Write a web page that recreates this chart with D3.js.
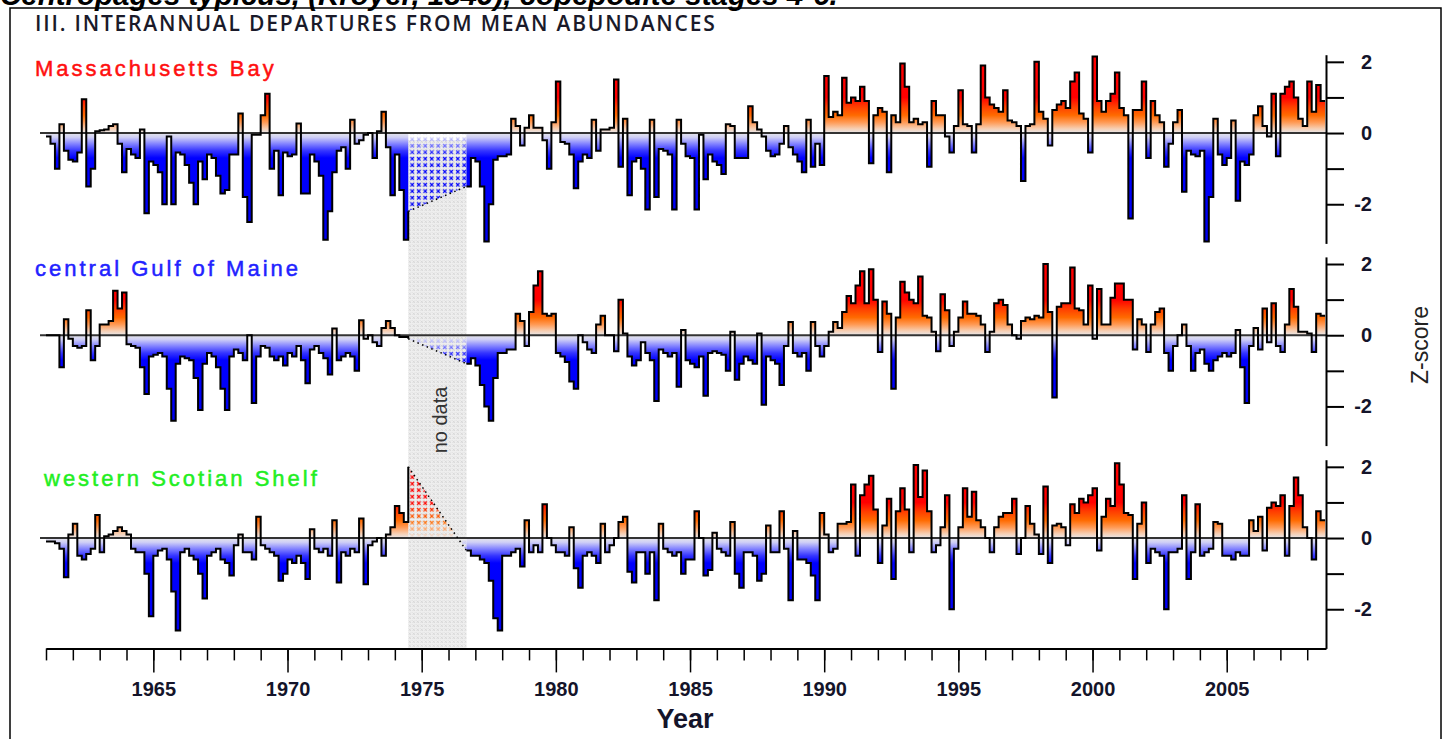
<!DOCTYPE html>
<html>
<head>
<meta charset="utf-8">
<script src="https://cdn.jsdelivr.net/npm/d3@7/dist/d3.min.js"></script>
<style>
body { margin: 0; background: #fff; }
svg text { font-family: "Liberation Sans", Arial, sans-serif; }
</style>
</head>
<body>
<svg id="chart" width="1452" height="739"></svg>
<script>
// bimonthly z-scores, six values per year starting Jan 1961, null = no data
var startYear = 1961, perYear = 6;

var massBay = [
  -0.1, -0.3, -1.0, 0.25, -0.5, -0.75,
  -0.8, -0.55, 0.95, -1.5, -1.0, 0.05,
  0.08, 0.1, 0.2, 0.25, -0.3, -1.1,
  -0.45, -0.6, -0.7, 0.1, -2.25, -0.8,
  -0.9, -1.1, -2.0, -0.1, -2.0, -0.55,
  -0.6, -0.9, -1.4, -2.0, -0.8, -1.3,
  -0.6, -0.7, -1.2, -1.7, -1.6, -0.6,
  -0.6, 0.55, -1.8, -2.5, -0.05, -0.05,
  0.5, 1.1, -1.0, -0.5, -1.75, -0.55,
  -0.65, -0.6, 0.27, -1.7, -1.7, -0.6,
  -0.8, -1.2, -3.0, -2.2, -1.1, -0.5,
  -0.4, -1.0, 0.37, -0.3, -0.2, -0.05,
  0.0, -0.7, 0.05, 0.6, -0.4, -1.75,
  -0.6, -1.6, -3.0, -2.2, null, null,
  null, null, null, null, null, null,
  null, null, null, null, -1.5, -0.7,
  -0.8, -1.5, -3.05, -2.0, -0.75, -0.65,
  -0.65, -0.6, 0.4, 0.2, -0.35, 0.15,
  0.5, 0.15, 0.15, -0.2, -1.0, 0.3,
  1.45, -0.25, -0.3, -0.6, -1.55, -0.8,
  -0.6, -0.7, 0.37, -0.5, 0.1, 0.1,
  0.15, 1.5, -0.95, 0.4, -1.75, -0.8,
  -0.7, -1.0, -2.15, 0.37, -1.8, -0.45,
  -0.5, -0.6, -2.15, 0.37, -0.3, -0.65,
  -0.7, -2.15, -0.05, -1.3, -0.6, -0.8,
  -0.9, -1.15, 0.25, 0.2, -0.7, -0.7,
  -0.7, 0.75, 0.3, 0.1, -0.1, -0.5,
  -0.65, -0.6, -0.3, 0.2, -0.4, -0.6,
  -0.8, -1.1, 0.37, -0.95, -0.3, -0.9,
  1.6, 0.45, 0.6, 0.5, 1.55, 0.85,
  1.0, 0.9, 1.3, 0.9, -0.85, 0.5,
  0.7, 0.6, -1.1, 0.5, 0.3, 1.95,
  1.3, 0.3, 0.4, 0.25, 0.3, -0.95,
  0.9, 0.5, 0.5, -0.1, -0.55, 0.2,
  1.2, 0.25, 0.2, -0.55, 0.25, 1.9,
  1.0, 0.8, 0.7, 0.6, 1.2, 0.35,
  0.3, 0.2, -1.35, 0.2, 0.25, 2.0,
  0.6, 0.4, -0.35, 0.65, 0.8, 0.9,
  0.7, 1.45, 1.7, 0.55, 0.4, -0.55,
  2.15, 0.9, 0.6, 0.9, 1.1, 1.7,
  0.7, 0.5, -2.4, 0.65, 0.65, 1.45,
  -0.7, 0.9, 0.5, 0.3, -0.95, -0.3,
  0.3, 0.65, -1.65, -0.5, -0.6, -0.65,
  -0.5, -3.05, -1.8, 0.4, -0.6, -0.9,
  -0.7, 0.35, -1.9, -0.8, -0.9, -0.6,
  0.5, 0.75, 0.2, -0.1, 1.1, -0.65,
  1.1, 1.3, 1.45, 1.0, 0.4, 0.2,
  1.45, 0.6, 1.35, 0.9
];

var gulfMaine = [
  0.0, 0.0, 0.0, -0.9, 0.45, -0.1,
  -0.3, -0.35, -0.3, 0.7, -0.7, -0.3,
  0.3, 0.3, 0.4, 1.25, 0.75, 1.2,
  -0.25, -0.3, -0.35, -0.9, -1.65, -0.6,
  -0.55, -0.5, -0.6, -1.5, -2.4, -0.8,
  -0.6, -0.65, -0.7, -1.2, -2.1, -0.8,
  -0.5, -0.6, -0.9, -1.5, -2.1, -0.6,
  -0.4, -0.5, -0.7, 0.0, -1.9, -0.6,
  -0.3, -0.35, -0.6, -0.7, -0.6, -0.85,
  -0.5, -0.6, -0.3, -0.7, -1.35, -0.4,
  -0.3, -0.5, -0.65, -1.1, 0.19, -0.7,
  -0.6, -0.5, -0.6, -1.0, 0.42, -0.1,
  0.0, -0.2, -0.3, 0.2, 0.4, 0.2,
  0.0, -0.05, -0.05, -0.1, null, null,
  null, null, null, null, null, null,
  null, null, null, null, -0.8, -0.65,
  -0.85, -1.4, -2.0, -2.4, -1.2, -0.5,
  -0.5, -0.4, -0.4, 0.6, 0.4, -0.3,
  0.65, 1.4, 1.8, 0.6, 0.55, 0.6,
  -0.5, -0.6, -0.75, -1.3, -1.5, 0.0,
  -0.2, -0.4, -0.5, 0.3, 0.55, 0.0,
  0.0, -0.45, 1.0, 0.05, -0.6, -0.85,
  -0.7, -0.2, -0.5, -0.7, -1.85, -0.4,
  -0.5, -0.6, -0.5, -1.45, 0.15, -0.7,
  -0.8, -0.9, -0.6, -1.7, -0.5, -0.45,
  -0.5, -0.55, -1.0, 0.1, -1.25, -0.8,
  -0.6, -0.7, -0.8, 0.05, -1.95, -0.6,
  -0.7, -0.8, -1.4, -0.3, 0.37, -0.5,
  -0.6, -0.5, -1.0, 0.37, -0.3, -0.6,
  -0.3, 0.1, 0.37, 0.2, 0.65, 1.1,
  0.9, 1.4, 1.8, 0.9, 1.85, 1.0,
  -0.47, 0.95, 0.6, -1.5, 0.5, 1.5,
  1.2, 1.0, 0.9, 1.65, 0.55, 0.5,
  0.1, -0.45, 1.15, 0.7, -0.3, 0.1,
  0.5, 0.95, 0.6, 0.6, 0.55, 0.3,
  -0.47, 0.1, 0.9, 1.0, 0.85, 0.3,
  0.0, -0.1, 0.4, 0.5, 0.45, 0.55,
  0.5, 2.0, 0.65, -1.75, 0.8, 0.9,
  0.9, 1.9, 0.75, 0.7, 0.3, 1.4,
  -0.1, 1.3, 0.3, 0.3, 1.05, 1.45,
  1.45, 1.0, 1.0, -0.4, 0.45, 0.3,
  -0.47, 0.3, 0.65, 0.75, -0.5, -1.0,
  -0.3, 0.0, 0.3, -0.3, -1.0, -0.5,
  -0.4, -0.8, -1.0, -0.7, -0.6, -0.5,
  -0.6, -0.5, 0.15, -0.9, -1.9, -0.3,
  0.2, -0.4, 0.75, -0.2, 0.9, -0.3,
  -0.47, 0.3, 1.3, 0.8, 0.1, 0.1,
  0.05, -0.47, 0.6, 0.55
];

var scotianShelf = [
  -0.1, -0.1, -0.15, -0.3, -1.1, 0.1,
  0.4, -0.5, -0.6, -0.45, -0.3, 0.65,
  -0.4, 0.05, 0.1, 0.2, 0.3, 0.2,
  0.1, -0.3, -0.4, -0.4, -1.0, -2.2,
  -0.5, -0.35, -0.3, -0.6, -1.5, -2.6,
  -0.4, -0.3, -0.5, -0.6, -1.0, -1.7,
  -0.5, -0.4, -0.3, -0.6, -0.7, -1.05,
  -0.2, 0.1, -0.4, -0.4, -0.6, 0.6,
  -0.2, -0.3, -0.4, -0.5, -1.2, -1.0,
  -0.6, -0.7, -0.5, -0.7, -1.15, 0.25,
  -0.3, -0.4, -0.3, -0.5, 0.5, -1.25,
  -0.4, -0.5, -0.3, -0.4, 0.55, -1.3,
  -0.2, -0.1, 0.0, -0.5, 0.1, 0.3,
  0.9, 0.7, 0.45, 2.0, null, null,
  null, null, null, null, null, null,
  null, null, null, null, -0.35, -0.5,
  -0.5, -0.6, -0.7, -1.2, -2.25, -2.6,
  -0.5, -0.5, -0.4, -0.3, -0.8, 0.5,
  -0.4, -0.2, -0.4, 0.95, 0.0, -0.2,
  -0.4, -0.4, -0.5, 0.3, -0.85, -1.4,
  -0.5, -0.4, -0.5, -0.7, 0.4, -0.4,
  -0.2, 0.0, 0.45, 0.6, -0.95, -1.25,
  -0.4, -0.4, -1.0, -0.4, -1.75, 0.4,
  -0.3, -0.4, -0.5, -0.4, -1.0, -0.6,
  -0.6, 0.75, 0.0, -1.05, -0.9, 0.15,
  -0.3, -0.4, -0.5, 0.45, -1.0, -1.4,
  -0.4, -0.4, -0.5, -1.2, -1.0, 0.35,
  -0.4, -0.4, 0.75, -0.3, -1.75, 0.2,
  -0.6, -0.6, -0.7, -1.05, -1.75, 0.7,
  0.1, -0.4, -0.3, 0.4, 0.4, 0.45,
  1.5, -0.5, 1.2, 1.5, 1.75, 0.8,
  -0.7, 0.35, 1.1, -1.15, 0.75, 1.4,
  0.8, -0.4, 2.05, 1.15, 1.9, 0.75,
  -0.4, -0.2, 0.3, 1.2, -2.0, -0.3,
  0.3, 1.4, 0.6, 1.3, 0.5, 0.3,
  0.0, -0.4, 0.3, 0.6, 0.7, 0.7,
  1.1, -0.45, 0.0, 0.9, 0.4, 0.1,
  -0.45, 1.45, -0.7, 0.35, 0.4, 0.3,
  -0.2, 0.95, 0.7, 1.1, 1.0, 1.2,
  1.4, -0.35, 0.6, 1.1, 0.9, 2.1,
  1.5, 0.7, 0.65, -1.15, 0.4, 1.0,
  -0.7, -0.3, -0.4, -0.5, -2.0, -0.4,
  -0.4, -0.3, 1.2, -1.15, -0.4, 0.95,
  -0.5, -0.4, -0.3, 0.45, 0.4, -0.5,
  -0.5, -0.6, -0.4, -0.5, -0.5, 0.5,
  0.2, 0.6, -0.35, 0.85, 1.0, 0.9,
  1.2, -0.5, 0.9, 1.7, 1.2, 0.3,
  0.0, -0.6, 0.75, 0.5
];

var regionNames = ["Massachusetts Bay", "central Gulf of Maine", "western Scotian Shelf"];
var yearLabels = [1965, 1970, 1975, 1980, 1985, 1990, 1995, 2000, 2005];
var zTicks = [-2, -1, 0, 1, 2];
var zLabels = [-2, 0, 2];
var noDataSpan = [1974.5, 1976.67];

// layout
var svg = d3.select("#chart");
var defs = svg.append("defs");
var x = d3.scaleLinear().domain([1961, 2008.7]).range([46, 1326]);
var panelTops = [54.7, 256.9, 459.7];
var panelH = 188.7;
var zMin = -3.1, zMax = 2.2;

var labelColors = ["#ff1010", "#2222ff", "#22ee22"];
var labelPos = [[35, 76], [35, 276], [44, 486]];

// colour ramp by z value
var ramp = [[2.2, "#ff0000"], [1.0, "#ff0000"], [0.75, "#ff3c00"], [0.5, "#ff6a00"],
  [0.3, "#ff9a55"], [0.12, "#f6cfb4"], [0.0, "#e6e6ea"], [-0.12, "#cfcff6"],
  [-0.3, "#8484ff"], [-0.5, "#3434ff"], [-0.7, "#0000ff"], [-3.1, "#0000ee"]];

// outer frame
svg.append("rect").attr("x", 10).attr("y", 8).attr("width", 1431).attr("height", 760)
  .attr("fill", "none").attr("stroke", "#000").attr("stroke-width", 1.5);

// caption above the frame, cut off by the page top as in the source
svg.append("text").attr("x", 0).attr("y", 5)
  .style("font-size", "29.5px").style("font-weight", "bold").style("font-style", "italic")
  .text("Centropages typicus, (Kroyer, 1849), copepodite stages 4-6.");

svg.append("text").attr("x", 35).attr("y", 31)
  .style("font-family", "'Open Sans', sans-serif").style("font-weight", 600)
  .style("font-size", "21px").style("letter-spacing", "1.8px").style("fill", "#1a1a2a")
  .text("III.  INTERANNUAL DEPARTURES FROM MEAN ABUNDANCES");

// patterns
var pat = defs.append("pattern").attr("id", "nodata").attr("patternUnits", "userSpaceOnUse")
  .attr("width", 4).attr("height", 4);
pat.append("rect").attr("width", 4).attr("height", 4).attr("fill", "#eeeeee");
pat.append("path").attr("d", "M0.5,0.5L3,3M3,0.5L0.5,3").attr("stroke", "#d4d4d4").attr("stroke-width", 0.8);

var hp = defs.append("pattern").attr("id", "hatch").attr("patternUnits", "userSpaceOnUse")
  .attr("width", 6.5).attr("height", 6.5);
hp.append("path").attr("d", "M1,1L4.5,4.5M4.5,1L1,4.5").attr("stroke", "#fff").attr("stroke-width", 1.2);
var mask = defs.append("mask").attr("id", "hatchMask").attr("maskUnits", "userSpaceOnUse")
  .attr("x", 0).attr("y", 0).attr("width", 1452).attr("height", 739);
mask.append("rect").attr("width", 1452).attr("height", 739).attr("fill", "url(#hatch)");

// no data band
var y0scale = d3.scaleLinear().domain([zMin, zMax]).range([panelTops[0] + panelH, panelTops[0]]);
svg.append("rect")
  .attr("x", x(noDataSpan[0])).attr("width", x(noDataSpan[1]) - x(noDataSpan[0]))
  .attr("y", y0scale(-0.2)).attr("height", panelTops[2] + panelH - y0scale(-0.2))
  .attr("fill", "url(#nodata)");

var allSeries = [massBay, gulfMaine, scotianShelf];

allSeries.forEach(function(values, p) {
  var y = d3.scaleLinear().domain([zMin, zMax]).range([panelTops[p] + panelH, panelTops[p]]);
  var g = svg.append("g");

  var grad = defs.append("linearGradient").attr("id", "fill" + p)
    .attr("gradientUnits", "userSpaceOnUse")
    .attr("x1", 0).attr("x2", 0).attr("y1", y(zMax)).attr("y2", y(zMin));
  ramp.forEach(function(s) {
    grad.append("stop").attr("offset", (y(s[0]) - y(zMax)) / (y(zMin) - y(zMax))).attr("stop-color", s[1]);
  });

  // split into runs of real data
  var pts = values.map(function(v, i) { return {t: startYear + i / perYear, v: v}; });
  var runs = [], cur = [];
  pts.forEach(function(d) {
    if (d.v === null) { if (cur.length) runs.push(cur); cur = []; }
    else cur.push(d);
  });
  if (cur.length) runs.push(cur);
  var last = runs[runs.length - 1];
  last.push({t: last[last.length - 1].t + 1 / perYear, v: last[last.length - 1].v});

  var area = d3.area().curve(d3.curveStepAfter)
    .x(function(d) { return x(d.t); }).y0(y(0)).y1(function(d) { return y(d.v); });
  var line = d3.line().curve(d3.curveStepAfter)
    .x(function(d) { return x(d.t); }).y(function(d) { return y(d.v); });

  runs.forEach(function(r) {
    g.append("path").datum(r).attr("d", area).attr("fill", "url(#fill" + p + ")");
  });

  // interpolated values across the gap
  var a = runs[0][runs[0].length - 1], b = runs[1][0];
  var gapPts = [a, b];
  g.append("path").datum(gapPts)
    .attr("d", d3.area().x(function(d) { return x(d.t); }).y0(y(0)).y1(function(d) { return y(d.v); }))
    .attr("fill", "url(#fill" + p + ")").attr("mask", "url(#hatchMask)");

  g.append("line").attr("x1", x(1961) - 6).attr("x2", x.range()[1])
    .attr("y1", y(0)).attr("y2", y(0)).attr("stroke", "#333").attr("stroke-width", 2);

  g.append("path").datum(gapPts)
    .attr("d", d3.line().x(function(d) { return x(d.t); }).y(function(d) { return y(d.v); }))
    .attr("fill", "none").attr("stroke", "#000").attr("stroke-width", 1.5)
    .attr("stroke-dasharray", "1.5,3.5");

  runs.forEach(function(r) {
    g.append("path").datum(r).attr("d", line)
      .attr("fill", "none").attr("stroke", "#000").attr("stroke-width", 2);
  });

  // right axis
  var ax = g.append("g").attr("transform", "translate(" + x.range()[1] + ",0)")
    .call(d3.axisRight(y).tickValues(zTicks).tickSize(18).tickSizeOuter(0)
      .tickFormat(function(d) { return zLabels.indexOf(d) >= 0 ? String(d) : ""; }));
  ax.select(".domain").attr("stroke", "#000").attr("stroke-width", 2);
  ax.selectAll(".tick line").attr("stroke", "#000").attr("stroke-width", 2);
  ax.selectAll(".tick text").attr("x", 46).attr("text-anchor", "end")
    .style("font-size", "20px").style("font-weight", "bold").style("fill", "#14142a");

  // region name
  svg.append("text").attr("x", labelPos[p][0]).attr("y", labelPos[p][1])
    .style("font-size", "22px").style("letter-spacing", "3px")
    .style("fill", labelColors[p]).style("stroke", labelColors[p]).style("stroke-width", 0.5)
    .text(regionNames[p]);
});

// bottom axis
var axisY = panelTops[2] + panelH;
var minor = svg.append("g").attr("transform", "translate(0," + axisY + ")")
  .call(d3.axisBottom(x).tickValues(d3.range(1961, 2009)).tickSize(12).tickSizeOuter(0).tickFormat(""));
minor.select(".domain").attr("stroke", "#000").attr("stroke-width", 2);
minor.selectAll(".tick line").attr("stroke", "#000").attr("stroke-width", 1.5);

var major = svg.append("g").attr("transform", "translate(0," + axisY + ")")
  .call(d3.axisBottom(x).tickValues(yearLabels).tickSize(24).tickPadding(9).tickFormat(d3.format("d")));
major.select(".domain").remove();
major.selectAll(".tick line").attr("stroke", "#000").attr("stroke-width", 1.5);
major.selectAll(".tick text").style("font-size", "20px").style("font-weight", "bold").style("fill", "#14142a");

svg.append("text").attr("x", 685).attr("y", 728).attr("text-anchor", "middle")
  .style("font-size", "27px").style("font-weight", "bold").style("fill", "#14142a").text("Year");

svg.append("text").attr("transform", "translate(1428,345) rotate(-90)").attr("text-anchor", "middle")
  .style("font-size", "23px").style("fill", "#222").text("Z-score");

svg.append("text").attr("transform", "translate(447,420) rotate(-90)").attr("text-anchor", "middle")
  .style("font-size", "20px").style("fill", "#333").text("no data");
</script>
</body>
</html>
